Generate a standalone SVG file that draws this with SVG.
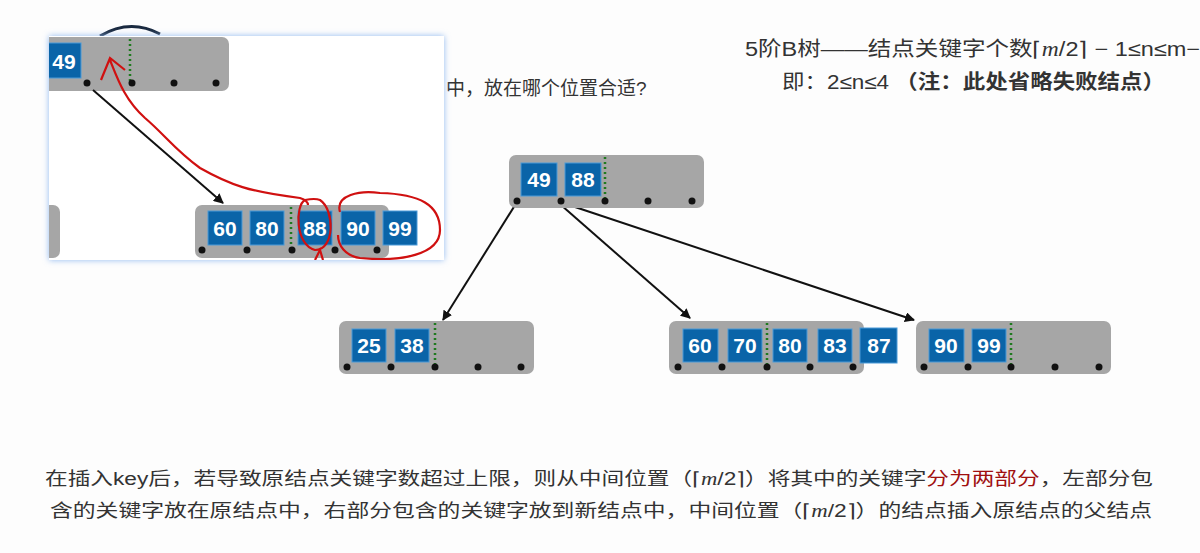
<svg xmlns="http://www.w3.org/2000/svg" width="1200" height="553" viewBox="0 0 1200 553">
<defs>
<style>
.n{fill:#a6a6a6}
.k{fill:#0a64a8;stroke:#4a9ad8;stroke-width:1}
.kt{font-family:"Liberation Sans",Arial,sans-serif;font-size:21px;font-weight:bold;fill:#fff;text-anchor:middle}
.d{fill:#111}
.g{stroke:#1f7a1f;stroke-width:2.5;stroke-dasharray:2 3}
.e{stroke:#111;stroke-width:2;fill:none;marker-end:url(#ah)}
.t{font-family:"Liberation Sans","Noto Sans CJK SC",sans-serif;fill:#333}
.r{stroke:#d01010;stroke-width:2.2;fill:none}
</style>
<marker id="ah" markerWidth="10" markerHeight="10" refX="9" refY="5" orient="auto" markerUnits="userSpaceOnUse"><path d="M0,0 L10,5 L0,10 z" fill="#111"/></marker>
<filter id="glow" x="-10%" y="-10%" width="120%" height="120%"><feGaussianBlur stdDeviation="3"/></filter>
<clipPath id="ic"><rect x="49" y="36" width="395" height="224"/></clipPath>
</defs>
<rect width="1200" height="553" fill="#fdfdfd"/>
<path d="M100,36 Q130,18 160,34" stroke="#1a2a40" stroke-width="3" fill="none"/>
<text class="t" x="446" y="95" font-size="19">中，放在哪个位置合适?</text>
<text class="t" x="745" y="56" font-size="20" textLength="455" lengthAdjust="spacingAndGlyphs">5阶B树——结点关键字个数⌈<tspan font-family="Liberation Serif" font-style="italic">m</tspan>/2⌉ − 1≤n≤m−</text>
<text class="t" x="782" y="89" font-size="20" textLength="383" lengthAdjust="spacingAndGlyphs">即：2≤n≤4 <tspan font-weight="bold">（注：此处省略失败结点）</tspan></text>

<g id="edges">
<line class="e" x1="517" y1="202" x2="443" y2="320"/>
<line class="e" x1="561" y1="205" x2="690" y2="318"/>
<line class="e" x1="566" y1="204" x2="914" y2="320"/>
</g>

<g id="root">
<rect class="n" x="509" y="155" width="195" height="53" rx="7"/>
<rect class="k" x="521" y="163" width="36" height="33"/><text class="kt" x="539" y="187">49</text>
<rect class="k" x="565" y="163" width="36" height="33"/><text class="kt" x="583" y="187">88</text>
<line class="g" x1="605" y1="157" x2="605" y2="200"/>
<circle class="d" cx="517" cy="201" r="3.5"/><circle class="d" cx="561" cy="201" r="3.5"/><circle class="d" cx="605" cy="201" r="3.5"/><circle class="d" cx="648" cy="201" r="3.5"/><circle class="d" cx="692" cy="201" r="3.5"/>
</g>

<g id="left">
<rect class="n" x="339" y="321" width="195" height="53" rx="7"/>
<rect class="k" x="352" y="329" width="34" height="33"/><text class="kt" x="369" y="353">25</text>
<rect class="k" x="395" y="329" width="34" height="33"/><text class="kt" x="412" y="353">38</text>
<line class="g" x1="435" y1="323" x2="435" y2="366"/>
<circle class="d" cx="347" cy="367" r="3.5"/><circle class="d" cx="391" cy="367" r="3.5"/><circle class="d" cx="435" cy="367" r="3.5"/><circle class="d" cx="478" cy="367" r="3.5"/><circle class="d" cx="521" cy="367" r="3.5"/>
</g>

<g id="middle">
<rect class="n" x="669" y="321" width="195" height="53" rx="7"/>
<rect class="k" x="683" y="329" width="35" height="33"/><text class="kt" x="700" y="353">60</text>
<rect class="k" x="728" y="329" width="34" height="33"/><text class="kt" x="745" y="353">70</text>
<rect class="k" x="773" y="329" width="34" height="33"/><text class="kt" x="790" y="353">80</text>
<rect class="k" x="818" y="329" width="34" height="33"/><text class="kt" x="835" y="353">83</text>
<rect class="k" x="860" y="328" width="37" height="35"/><text class="kt" x="879" y="353">87</text>
<line class="g" x1="767" y1="323" x2="767" y2="366"/>
<circle class="d" cx="678" cy="367" r="3.5"/><circle class="d" cx="722" cy="367" r="3.5"/><circle class="d" cx="767" cy="367" r="3.5"/><circle class="d" cx="810" cy="367" r="3.5"/><circle class="d" cx="853" cy="367" r="3.5"/>
</g>

<g id="right">
<rect class="n" x="916" y="321" width="195" height="53" rx="7"/>
<rect class="k" x="929" y="329" width="35" height="33"/><text class="kt" x="946" y="353">90</text>
<rect class="k" x="972" y="329" width="34" height="33"/><text class="kt" x="989" y="353">99</text>
<line class="g" x1="1011" y1="323" x2="1011" y2="366"/>
<circle class="d" cx="924" cy="367" r="3.5"/><circle class="d" cx="968" cy="367" r="3.5"/><circle class="d" cx="1011" cy="367" r="3.5"/><circle class="d" cx="1055" cy="367" r="3.5"/><circle class="d" cx="1099" cy="367" r="3.5"/>
</g>

<g id="inset">
<rect x="49" y="36" width="395" height="224" fill="#8fb8f0" filter="url(#glow)"/>
<rect x="49" y="36" width="395" height="224" fill="#fff"/>
<g clip-path="url(#ic)">
<rect class="n" x="30" y="37" width="199" height="54" rx="7"/>
<rect class="k" x="45" y="43" width="36" height="35"/><text class="kt" x="64" y="69">49</text>
<line class="g" x1="130" y1="39" x2="130" y2="82"/>
<circle class="d" cx="87" cy="83" r="3.5"/><circle class="d" cx="132" cy="83" r="3.5"/><circle class="d" cx="174" cy="83" r="3.5"/><circle class="d" cx="216" cy="83" r="3.5"/>
<rect class="n" x="20" y="205" width="40" height="53" rx="7"/>
<rect class="n" x="195" y="205" width="194" height="53" rx="7"/>
<rect class="k" x="208" y="211" width="34" height="34"/><text class="kt" x="225" y="236">60</text>
<rect class="k" x="250" y="211" width="34" height="34"/><text class="kt" x="267" y="236">80</text>
<rect class="k" x="298" y="211" width="34" height="34"/><text class="kt" x="315" y="236">88</text>
<rect class="k" x="341" y="211" width="34" height="34"/><text class="kt" x="358" y="236">90</text>
<rect class="k" x="383" y="211" width="34" height="34"/><text class="kt" x="400" y="236">99</text>
<line class="g" x1="291" y1="207" x2="291" y2="249"/>
<circle class="d" cx="202" cy="250" r="3.5"/><circle class="d" cx="247" cy="250" r="3.5"/><circle class="d" cx="292" cy="250" r="3.5"/><circle class="d" cx="335" cy="250" r="3.5"/><circle class="d" cx="377" cy="250" r="3.5"/>
<line class="e" x1="93" y1="90" x2="223" y2="203"/>
<path class="r" d="M101,80 L110,58 L125,70 M110,60 C118,80 125,100 145,118 C165,135 175,150 200,168 C230,185 250,192 300,198 C306,200 308,202 308,205"/>
<path class="r" d="M305,200 C295,205 295,245 315,250 C335,250 335,210 320,200 C315,198 310,199 305,200"/>
<path class="r" d="M340,212 C335,195 360,190 380,193 C420,194 440,205 440,230 C440,255 400,262 360,258 C345,256 338,245 338,235"/>
<path class="r" d="M315,260 L320,250 L323,260"/>
</g>
</g>

<text class="t" x="45" y="485" font-size="18" textLength="1108" lengthAdjust="spacingAndGlyphs">在插入key后，若导致原结点关键字数超过上限，则从中间位置（⌈<tspan font-family="Liberation Serif" font-style="italic">m</tspan>/2⌉）将其中的关键字<tspan fill="#a01010">分为两部分</tspan>，左部分包</text>
<text class="t" x="50" y="517" font-size="18" textLength="1102" lengthAdjust="spacingAndGlyphs">含的关键字放在原结点中，右部分包含的关键字放到新结点中，中间位置（⌈<tspan font-family="Liberation Serif" font-style="italic">m</tspan>/2⌉）的结点插入原结点的父结点</text>
</svg>
